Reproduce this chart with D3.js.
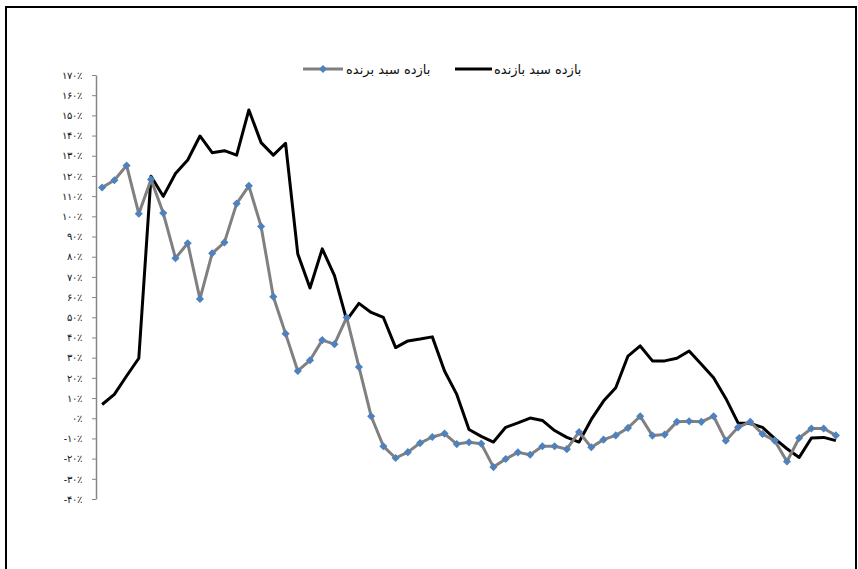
<!DOCTYPE html>
<html>
<head>
<meta charset="utf-8">
<script src="https://cdn.jsdelivr.net/npm/d3@7"></script>
<style>
  body { margin: 0; background: #fff; }
  svg { display: block; font-family: "DejaVu Sans", sans-serif; }
</style>
</head>
<body>
<svg width="858" height="569"></svg>
<script>
  // winner portfolio (diamonds) and loser portfolio (black), in percent
  const winner = [114.3, 117.9, 125.2, 101.3, 118.3, 101.6, 79.3, 86.7, 59.1, 81.7,
    87.1, 106.3, 115.1, 95.0, 60.2, 41.9, 23.4, 28.7, 38.7, 36.7,
    49.9, 25.4, 1.0, -13.9, -19.7, -16.8, -12.3, -9.3, -7.6, -12.8,
    -11.9, -12.6, -24.2, -20.2, -16.9, -18.1, -13.9, -13.9, -15.3, -6.8,
    -14.4, -10.6, -8.5, -4.8, 1.0, -8.6, -8.1, -1.8, -1.5, -1.8,
    1.0, -11.1, -4.5, -1.8, -7.8, -11.1, -21.4, -9.8, -5.1, -5.1, -8.5];
  const loser = [6.8, 11.8, 20.9, 29.7, 119.9, 109.9, 121.2, 127.9, 139.8, 131.5,
    132.5, 130.3, 152.7, 136.5, 130.3, 136.2, 81.4, 64.5, 83.9, 70.6,
    48.6, 56.9, 52.4, 49.9, 35.0, 38.3, 39.2, 40.3, 23.4, 11.8,
    -5.6, -9.0, -11.8, -4.5, -2.3, 0.1, -1.1, -6.1, -9.5, -11.8,
    -0.6, 8.5, 15.1, 30.8, 35.8, 28.4, 28.4, 29.7, 33.3, 26.7,
    20.0, 9.8, -2.3, -2.6, -4.5, -10.1, -15.1, -19.4, -9.8, -9.5, -11.1];
  const yTicks = [-40, -30, -20, -10, 0, 10, 20, 30, 40, 50, 60, 70, 80, 90,
    100, 110, 120, 130, 140, 150, 160, 170];
  const winnerLabel = 'بازده سبد برنده';
  const loserLabel = 'بازده سبد بازنده';

  const svg = d3.select('svg');

  // frame round the chart
  svg.append('rect')
    .attr('x', 6).attr('y', 7)
    .attr('width', 850).attr('height', 570)
    .attr('fill', 'none')
    .attr('stroke', '#000')
    .attr('stroke-width', 2);

  const periods = winner.map((d, i) => i);

  const xScale = d3.scalePoint()
    .domain(periods)
    .range([96, 842])
    .padding(0.5);

  const yScale = d3.scaleLinear()
    .domain([-40, 170])
    .range([499, 75]);

  const toFa = n => String(n).replace(/\d/g, c => '۰۱۲۳۴۵۶۷۸۹'[c]);
  const pct = v => (v < 0 ? '-' : '') + toFa(Math.abs(v)) + '٪';

  const yAxis = d3.axisLeft(yScale)
    .tickValues(yTicks)
    .tickSize(4)
    .tickSizeOuter(0)
    .tickPadding(10)
    .tickFormat(pct);

  const yAxisG = svg.append('g')
    .attr('transform', 'translate(96,0)')
    .call(yAxis);
  yAxisG.select('.domain').attr('stroke', '#868686').attr('stroke-width', 1.5);
  yAxisG.selectAll('.tick line').attr('stroke', '#868686');
  yAxisG.selectAll('.tick text')
    .attr('font-size', 10)
    .attr('fill', '#111');

  const line = d3.line()
    .x((d, i) => xScale(i))
    .y(d => yScale(d));

  // loser line
  svg.append('path')
    .datum(loser)
    .attr('fill', 'none')
    .attr('stroke', '#000')
    .attr('stroke-width', 3)
    .attr('stroke-linejoin', 'round')
    .attr('d', line);

  // winner line
  svg.append('path')
    .datum(winner)
    .attr('fill', 'none')
    .attr('stroke', '#808080')
    .attr('stroke-width', 3)
    .attr('stroke-linejoin', 'round')
    .attr('d', line);

  const diamond = d3.symbol().type(d3.symbolDiamond2).size(42);

  svg.append('g')
    .selectAll('path')
    .data(winner)
    .enter().append('path')
    .attr('d', diamond)
    .attr('transform', (d, i) => `translate(${xScale(i)},${yScale(d)})`)
    .attr('fill', '#4F81BD');

  // Legend
  const legend = svg.append('g').attr('font-size', 13).attr('fill', '#111');

  legend.append('line')
    .attr('x1', 303).attr('x2', 343).attr('y1', 69).attr('y2', 69)
    .attr('stroke', '#808080').attr('stroke-width', 3);
  legend.append('path')
    .attr('d', diamond)
    .attr('transform', 'translate(323,69)')
    .attr('fill', '#4F81BD');
  legend.append('text')
    .attr('x', 346).attr('y', 74)
    .text(winnerLabel);

  legend.append('line')
    .attr('x1', 455).attr('x2', 492).attr('y1', 69).attr('y2', 69)
    .attr('stroke', '#000').attr('stroke-width', 3);
  legend.append('text')
    .attr('x', 494).attr('y', 74)
    .text(loserLabel);
</script>
</body>
</html>
